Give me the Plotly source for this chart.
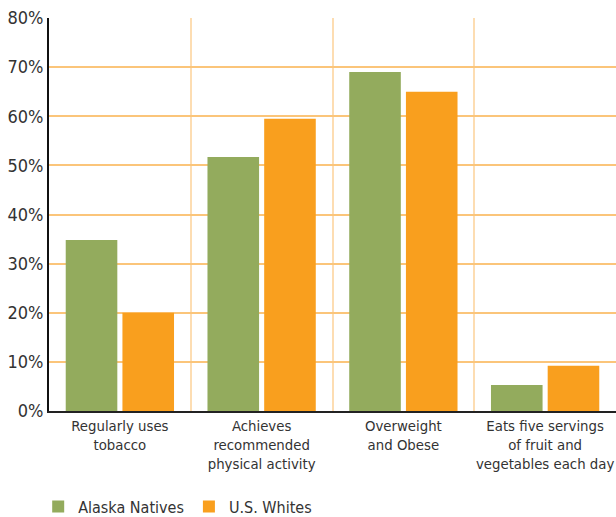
import plotly.graph_objects as go

categories = ["Regularly uses<br>tobacco",
              "Achieves<br>recommended<br>physical activity",
              "Overweight<br>and Obese",
              "Eats five servings<br>of fruit and<br>vegetables each day"]
alaska_natives = [34.8, 51.7, 69.0, 5.3]
us_whites = [20.0, 59.5, 65.0, 9.2]
y_ticks = [0, 10, 20, 30, 40, 50, 60, 70, 80]
y_tick_labels = ["0%", "10%", "20%", "30%", "40%", "50%", "60%", "70%", "80%"]

FONT = "Liberation Sans Narrow, DejaVu Sans Condensed, sans-serif"

fig = go.Figure()
fig.add_trace(go.Bar(name="Alaska Natives", x=categories, y=alaska_natives,
                     marker=dict(color="#93AB5D", line=dict(width=0))))
fig.add_trace(go.Bar(name="U.S. Whites", x=categories, y=us_whites,
                     marker=dict(color="#F99F1E", line=dict(width=0))))

fig.update_layout(
    width=616, height=517,
    margin=dict(l=49, r=0, t=18, b=106),
    plot_bgcolor="white", paper_bgcolor="white",
    barmode="group", bargap=0.2, bargroupgap=0.09,
    font=dict(family=FONT, size=16, color="#333333"),
    showlegend=True,
    legend=dict(orientation="h", x=0.062, xref="container", xanchor="left",
                y=0.02, yref="container", yanchor="middle",
                font=dict(size=16, color="#333333"), traceorder="normal",
                itemwidth=30, tracegroupgap=0),
    xaxis=dict(showline=True, linecolor="#222222", linewidth=2,
               tickson="boundaries", showgrid=True, gridcolor="#FDDDB2", gridwidth=2,
               ticks="", tickangle=0, automargin=False,
               tickfont=dict(size=14.8), range=[-0.5, 3.5]),
    yaxis=dict(range=[0, 80], tickvals=y_ticks, ticktext=y_tick_labels,
               showline=True, linecolor="#111111", linewidth=2,
               showgrid=True, gridcolor="#FBC57A", gridwidth=1.5,
               ticks="", automargin=False, tickfont=dict(size=18), zeroline=False),
)

fig.write_html("out.html")
